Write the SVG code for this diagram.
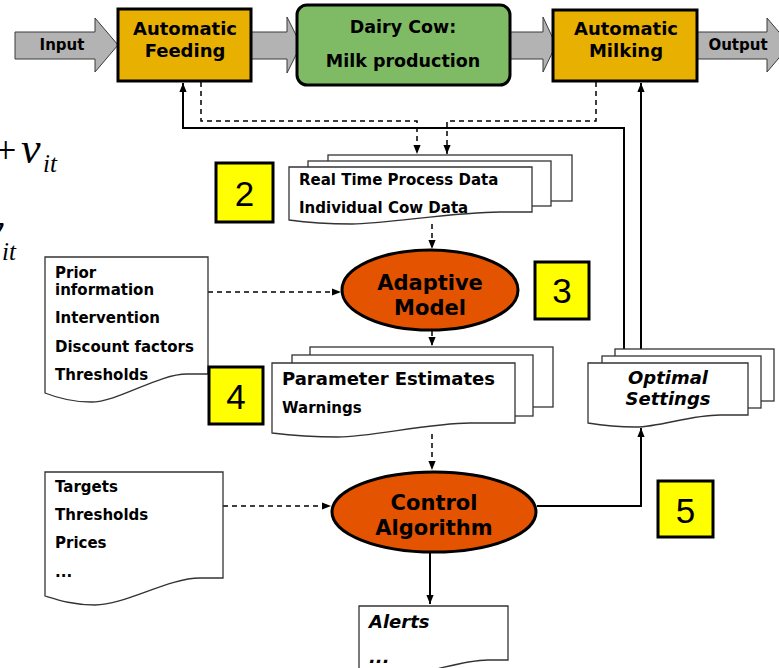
<svg xmlns="http://www.w3.org/2000/svg" width="779" height="668" viewBox="0 0 779 668">
<defs>
<style>
.lbl{font-family:"DejaVu Sans",Verdana,sans-serif;font-weight:bold;fill:#000}
.box{fill:#E8B000;stroke:#000;stroke-width:3}
.garrow{fill:#B3B3B3;stroke:#3a3a3a;stroke-width:1}
.doc{fill:#fff;stroke:#333;stroke-width:1.3}
.ell{fill:#E35300;stroke:#000;stroke-width:3}
.num{fill:#FFFF00;stroke:#000;stroke-width:3}
.numt{font-family:"Liberation Sans",Arial,sans-serif;font-size:35px;fill:#000}
.solid{fill:none;stroke:#000;stroke-width:2}
.dash{fill:none;stroke:#000;stroke-width:1.5;stroke-dasharray:5 4}
.math{font-family:"Liberation Serif","Times New Roman",serif;fill:#000}
</style>
<marker id="ah" viewBox="0 0 10 10" refX="10" refY="5" markerWidth="9" markerHeight="9" markerUnits="userSpaceOnUse" orient="auto"><path d="M0,1 L10,5 L0,9 Z" fill="#000"/></marker>
</defs>
<rect width="779" height="668" fill="#fff"/>

<g id="equation">
<text class="math" font-size="38" x="-5" y="163">+</text>
<text class="math" font-size="44" font-style="italic" x="21" y="163">ν</text>
<text class="math" font-size="25" font-style="italic" x="43" y="172">it</text>
<text class="math" font-size="44" font-style="italic" x="-16" y="243">ν</text>
<text class="math" font-size="25" font-style="italic" x="2" y="260">it</text>
</g>

<g id="flow-arrows">
<path class="garrow" d="M15,32 H95 V18 L118,45 L95,72 V59 H15 Z"/>
<path class="garrow" d="M251,32 H287 V17 L301,45 L287,73 V59 H251 Z"/>
<path class="garrow" d="M510,32 H543 V17 L556,45 L543,72 V59 H510 Z"/>
<path class="garrow" d="M697,32 H767 V18 L790,45 L767,72 V59 H697 Z"/>
<text class="lbl" font-size="15" x="62" y="50" text-anchor="middle">Input</text>
<text class="lbl" font-size="15" x="738" y="50" text-anchor="middle">Output</text>
</g>

<g id="feeding">
<rect class="box" x="118" y="9" width="133" height="72"/>
<text class="lbl" font-size="18" x="185" y="35" text-anchor="middle">Automatic</text>
<text class="lbl" font-size="18" x="185" y="57" text-anchor="middle">Feeding</text>
</g>

<g id="dairy-cow">
<rect x="297" y="5" width="213" height="80" rx="10" fill="#7FBB65" stroke="#000" stroke-width="3"/>
<text class="lbl" font-size="17.5" x="403" y="33" text-anchor="middle">Dairy Cow:</text>
<text class="lbl" font-size="17.5" x="403" y="67" text-anchor="middle">Milk production</text>
</g>

<g id="milking">
<rect class="box" x="553" y="10" width="144" height="71"/>
<text class="lbl" font-size="18" x="626" y="35" text-anchor="middle">Automatic</text>
<text class="lbl" font-size="18" x="626" y="57" text-anchor="middle">Milking</text>
</g>

<g id="connectors">
<path class="solid" d="M624,349 V128 H183 V83" marker-end="url(#ah)"/>
<path class="solid" d="M641,349 V83" marker-end="url(#ah)"/>
<path class="dash" d="M201,82 V121 H417 V154" marker-end="url(#ah)"/>
<path class="dash" d="M596,82 V121 H447 V154" marker-end="url(#ah)"/>
<path class="dash" d="M432,224 V249" marker-end="url(#ah)"/>
<path class="dash" d="M208,292 H341" marker-end="url(#ah)"/>
<path class="dash" d="M432,331 V346" marker-end="url(#ah)"/>
<path class="dash" d="M432,434 V470" marker-end="url(#ah)"/>
<path class="dash" d="M223,506 H331" marker-end="url(#ah)"/>
<path class="solid" d="M537,506 H641 V428" marker-end="url(#ah)"/>
<path class="solid" d="M430,553 V604" marker-end="url(#ah)"/>
</g>

<g id="process-data">
<rect class="doc" x="328" y="155" width="244" height="46"/>
<rect class="doc" x="308" y="161" width="243" height="45"/>
<path class="doc" d="M289,167 H532 V212 H500 C455,212 385,224 352,224 C325,224 303,222 289,220 Z"/>
<text class="lbl" font-size="15" x="299" y="185">Real Time Process Data</text>
<text class="lbl" font-size="15" x="299" y="213">Individual Cow Data</text>
</g>

<g id="label-2">
<rect class="num" x="216" y="163" width="57" height="59"/>
<text class="numt" x="244.5" y="206" text-anchor="middle">2</text>
</g>

<g id="adaptive-model">
<ellipse class="ell" cx="430" cy="290" rx="88" ry="40"/>
<text class="lbl" font-size="21" x="430" y="290" text-anchor="middle">Adaptive</text>
<text class="lbl" font-size="21" x="430" y="315" text-anchor="middle">Model</text>
</g>

<g id="label-3">
<rect class="num" x="535" y="262" width="54" height="57"/>
<text class="numt" x="562" y="303" text-anchor="middle">3</text>
</g>

<g id="prior-info">
<path class="doc" d="M45,257 H208 V374 H187 C158,374 118,402 91,402 C70,402 55,397 45,393 Z"/>
<text class="lbl" font-size="15" x="55" y="278">Prior</text>
<text class="lbl" font-size="15" x="55" y="295">information</text>
<text class="lbl" font-size="15" x="55" y="323">Intervention</text>
<text class="lbl" font-size="15" x="55" y="352">Discount factors</text>
<text class="lbl" font-size="15" x="55" y="380">Thresholds</text>
</g>

<g id="label-4">
<rect class="num" x="209" y="367" width="54" height="57"/>
<text class="numt" x="236" y="409" text-anchor="middle">4</text>
</g>

<g id="parameter-estimates">
<rect class="doc" x="310" y="347" width="243" height="60"/>
<rect class="doc" x="292" y="355" width="241" height="61"/>
<path class="doc" d="M272,363 H515 V423 H470 C430,423 370,437 338,437 C310,437 288,435 272,433 Z"/>
<text class="lbl" font-size="18" x="282" y="385">Parameter Estimates</text>
<text class="lbl" font-size="15" x="282" y="413">Warnings</text>
</g>

<g id="optimal-settings">
<rect class="doc" x="615" y="349" width="159" height="52"/>
<rect class="doc" x="602" y="356" width="159" height="52"/>
<path class="doc" d="M588,363 H748 V415 H720 C690,415 660,427 636,427 C615,427 600,425 588,423 Z"/>
<text class="lbl" font-size="18" font-style="italic" x="668" y="384" text-anchor="middle">Optimal</text>
<text class="lbl" font-size="18" font-style="italic" x="668" y="405" text-anchor="middle">Settings</text>
</g>

<g id="targets">
<path class="doc" d="M45,472 H223 V578 H200 C168,578 125,605 95,605 C73,605 58,600 45,596 Z"/>
<text class="lbl" font-size="15" x="55" y="492">Targets</text>
<text class="lbl" font-size="15" x="55" y="520">Thresholds</text>
<text class="lbl" font-size="15" x="55" y="548">Prices</text>
<text class="lbl" font-size="15" x="55" y="577">...</text>
</g>

<g id="control-algorithm">
<ellipse class="ell" cx="434" cy="512" rx="102" ry="40"/>
<text class="lbl" font-size="21" x="434" y="510" text-anchor="middle">Control</text>
<text class="lbl" font-size="21" x="434" y="535" text-anchor="middle">Algorithm</text>
</g>

<g id="label-5">
<rect class="num" x="658" y="481" width="55" height="56"/>
<text class="numt" x="685.5" y="523" text-anchor="middle">5</text>
</g>

<g id="alerts">
<path class="doc" d="M359,606 H508 V660 H488 C460,660 420,676 395,676 C380,676 368,674 359,672 Z"/>
<text class="lbl" font-size="18" font-style="italic" x="369" y="628">Alerts</text>
<text class="lbl" font-size="18" font-style="italic" x="369" y="663">...</text>
</g>
</svg>
